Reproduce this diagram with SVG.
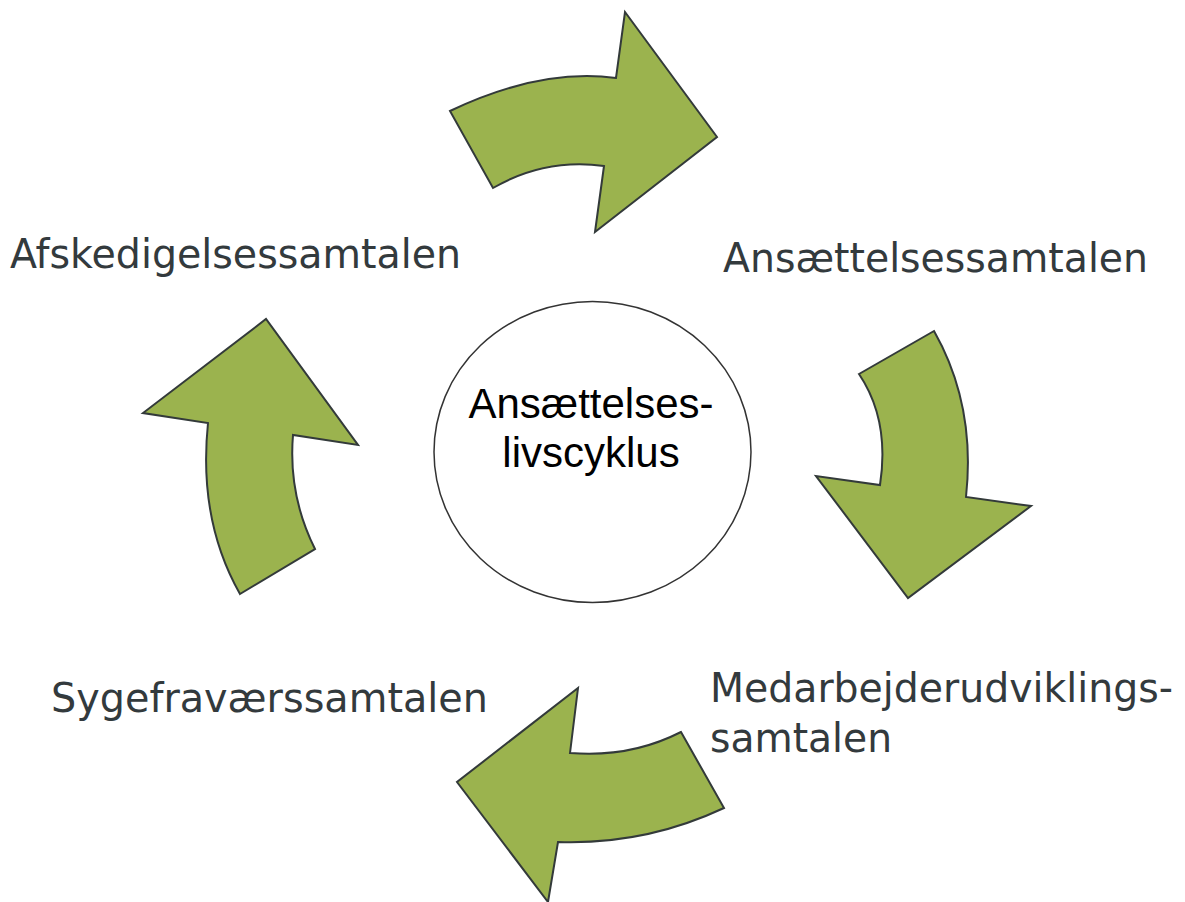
<svg xmlns="http://www.w3.org/2000/svg" width="1185" height="902" viewBox="0 0 1185 902">
<style>
.arrow{fill:#9bb34e;stroke:#333a3a;stroke-width:2;stroke-linejoin:miter}
.lbl{font-family:"DejaVu Sans",Verdana,sans-serif;font-size:41px;fill:#333a3d}
.ctr{font-family:"Liberation Sans",Arial,sans-serif;font-size:42px;fill:#000;text-anchor:middle}
</style>
<rect width="1185" height="902" fill="#fff"/>
<g id="connectors">
<path id="arrow-top" class="arrow" d="M450,111 Q540,68 616,78 L625,12 L717,137 L595,232 L604,166 Q545,158 493,188 Z"/>
<path id="arrow-right" class="arrow" d="M859,374 L934,331 Q976,405 966,497 L1031,506 L908,598 L816,476 L880,485 Q890,420 859,374 Z"/>
<path id="arrow-bottom" class="arrow" d="M681,732 L724,808 Q645,845 558,842 L548,902 L457,782 L578,688 L570,753 Q630,758 681,732 Z"/>
<path id="arrow-left" class="arrow" d="M240,594 L315,549 Q288,495 293,435 L358,445 L266,319 L143,413 L208,423 Q198,520 240,594 Z"/>
</g>
<g id="center">
<ellipse cx="592.5" cy="452" rx="158.5" ry="150.5" fill="#fff" stroke="#333" stroke-width="1.5"/>
<text class="ctr" x="591" y="418">Ansættelses-</text>
<text class="ctr" x="591" y="467">livscyklus</text>
</g>
<g id="node-ansaettelse">
<text class="lbl" x="723" y="272" textLength="425" lengthAdjust="spacingAndGlyphs">Ansættelsessamtalen</text>
</g>
<g id="node-medarbejder">
<text class="lbl" x="710" y="702" textLength="463" lengthAdjust="spacingAndGlyphs">Medarbejderudviklings-</text>
<text class="lbl" x="710" y="752" textLength="182" lengthAdjust="spacingAndGlyphs">samtalen</text>
</g>
<g id="node-sygefravaer">
<text class="lbl" x="51" y="712" textLength="437" lengthAdjust="spacingAndGlyphs">Sygefraværssamtalen</text>
</g>
<g id="node-afsked">
<text class="lbl" x="10" y="268" textLength="451" lengthAdjust="spacingAndGlyphs">Afskedigelsessamtalen</text>
</g>
</svg>
